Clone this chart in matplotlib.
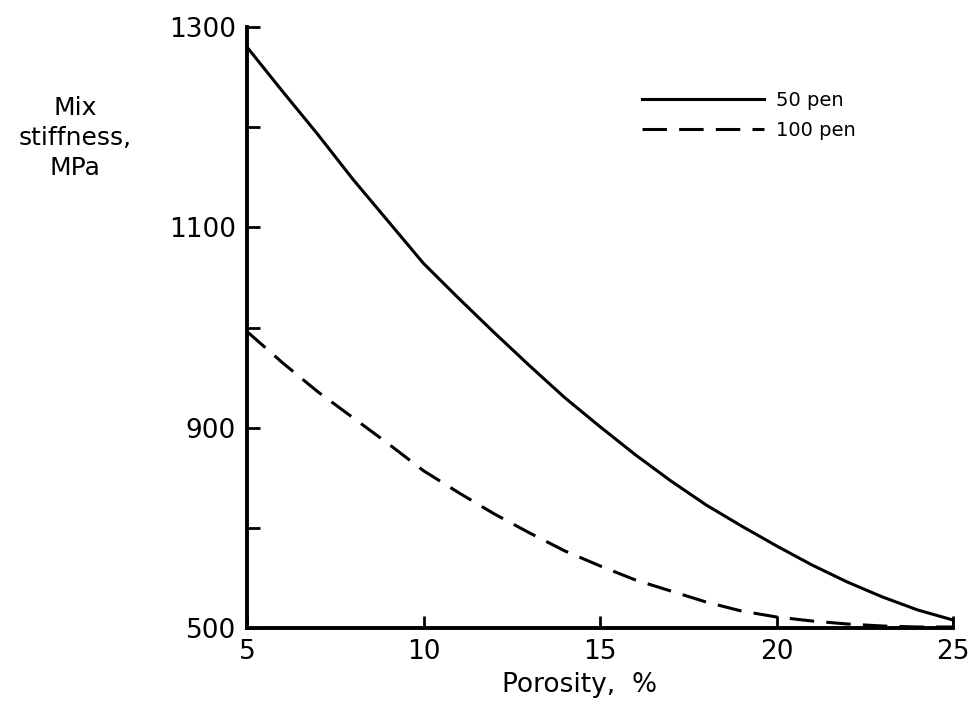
import numpy as np
from matplotlib import pyplot as plt

# porosity, %
porosity = [5, 6, 7, 8, 9, 10, 11, 12, 13, 14, 15, 16, 17, 18, 19, 20, 21, 22, 23, 24, 25]
stiff_50pen = [1280, 1236, 1193, 1148, 1106, 1064, 1029, 995, 962, 930, 901,
               873, 847, 823, 802, 782, 763, 746, 731, 718, 708]
stiff_100pen = [996, 965, 936, 910, 884, 857, 835, 814, 795, 777, 762,
                748, 737, 726, 717, 711, 707, 704, 702, 701, 701]

x_ticks = [5, 10, 15, 20, 25]
y_ticks = [700, 800, 900, 1000, 1100, 1200, 1300]
# the original figure labels its bottom tick "500"
y_tick_labels = ['500', '', '900', '', '1100', '', '1300']

plt.rcParams['font.family'] = ['DejaVu Sans']

fig = plt.figure(figsize=(9.7, 7.1), dpi=100)
ax = fig.add_axes([247 / 970, 1 - 628 / 710, (953 - 247) / 970, (628 - 27) / 710])

ax.plot(porosity, stiff_50pen, color='black', lw=2.2, label='50 pen', clip_on=False)
ax.plot(porosity, stiff_100pen, color='black', lw=2.2, dashes=(8, 4), label='100 pen', clip_on=False)
# closing stroke at the right end of the chart
ax.vlines(porosity[-1], y_ticks[0], stiff_50pen[-1], color='black', lw=2.2)

ax.set_xlim(5, 25)
ax.set_ylim(700, 1300)
ax.set_xticks(x_ticks)
ax.set_yticks(y_ticks)
ax.set_yticklabels(y_tick_labels)

for side in ['top', 'right']:
    ax.spines[side].set_visible(False)
for side in ['left', 'bottom']:
    ax.spines[side].set_linewidth(2.8)

ax.tick_params(axis='y', direction='in', length=9, width=2, labelsize=19, pad=8)
ax.tick_params(axis='x', direction='in', length=9, width=2, labelsize=19, pad=8)

fig.text(75 / 970, 1 - 138 / 710, 'Mix\nstiffness,\nMPa', ha='center', va='center',
         fontsize=18, linespacing=1.3)
fig.text(580 / 970, 1 - 685 / 710, 'Porosity,  %', ha='center', va='center', fontsize=19)

ax.legend(loc='upper left', bbox_to_anchor=(642 / 970, 1 - 91 / 710),
          bbox_transform=fig.transFigure, frameon=False, fontsize=14,
          handlelength=6.3, handletextpad=0.6, labelspacing=0.55,
          borderpad=0, borderaxespad=0)

plt.savefig('out.png', dpi=100)
